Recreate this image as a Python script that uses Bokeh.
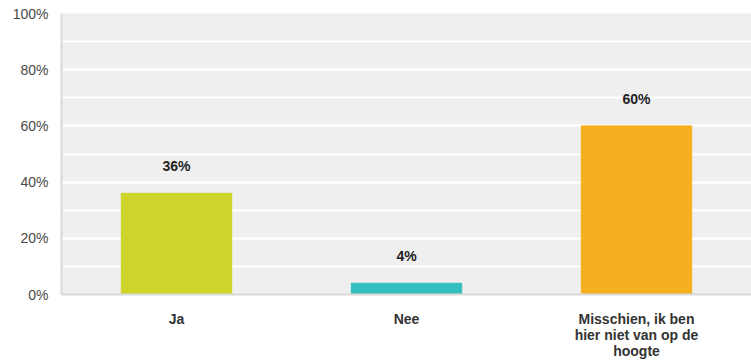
from bokeh.plotting import figure
from bokeh.models import ColumnDataSource, SingleIntervalTicker, PrintfTickFormatter, Range1d
from bokeh.core.properties import value
from bokeh.embed import file_html
from bokeh.resources import INLINE

categories = ["Ja", "Nee", "Misschien, ik ben\nhier niet van op de\nhoogte"]
values = [36, 4, 60]
colors = ["#cfd42a", "#35bebe", "#f6b01f"]
labels = ["36%", "4%", "60%"]

src = ColumnDataSource(dict(cat=categories, val=values, color=colors, lab=labels))

p = figure(x_range=categories, y_range=Range1d(0, 100), width=751, height=362,
           output_backend="svg", toolbar_location=None,
           min_border_left=61, min_border_right=0, min_border_top=13, min_border_bottom=68)
p.background_fill_color = "#efefef"
p.border_fill_color = "white"
p.outline_line_color = None

p.vbar(x="cat", top="val", width=0.48, color="color", source=src)
p.text(x="cat", y="val", text="lab", source=src, y_offset=-27,
       text_align="center", text_baseline="middle",
       text_font=value("Liberation Sans"), text_font_style="bold",
       text_font_size="14px", text_color="#222222")

p.yaxis.ticker = SingleIntervalTicker(interval=20, num_minor_ticks=2)
p.yaxis.formatter = PrintfTickFormatter(format="%d%%")
p.yaxis.major_label_text_font = "Liberation Sans"
p.yaxis.major_label_text_font_size = "14px"
p.yaxis.major_label_text_color = "#4a4a4a"
p.yaxis.major_label_text_baseline = "top"
p.yaxis.axis_line_color = "#d9d9d9"
p.yaxis.axis_line_width = 2
p.yaxis.major_tick_line_color = None
p.yaxis.minor_tick_line_color = None
p.yaxis.major_label_standoff = 7

p.xaxis.major_label_text_font = "Liberation Sans"
p.xaxis.major_label_text_font_style = "bold"
p.xaxis.major_label_text_font_size = "14px"
p.xaxis.major_label_text_line_height = 1.0
p.xaxis.major_label_text_color = "#333333"
p.xaxis.axis_line_color = "#d9d9d9"
p.xaxis.axis_line_width = 2
p.xaxis.major_tick_line_color = None
p.xaxis.minor_tick_line_color = None
p.xaxis.major_label_standoff = 10

p.xgrid.grid_line_color = None
p.ygrid.grid_line_color = "white"
p.ygrid.grid_line_width = 2
p.ygrid.minor_grid_line_color = "white"
p.ygrid.minor_grid_line_width = 2

open("out.html", "w").write(file_html(p, INLINE))
